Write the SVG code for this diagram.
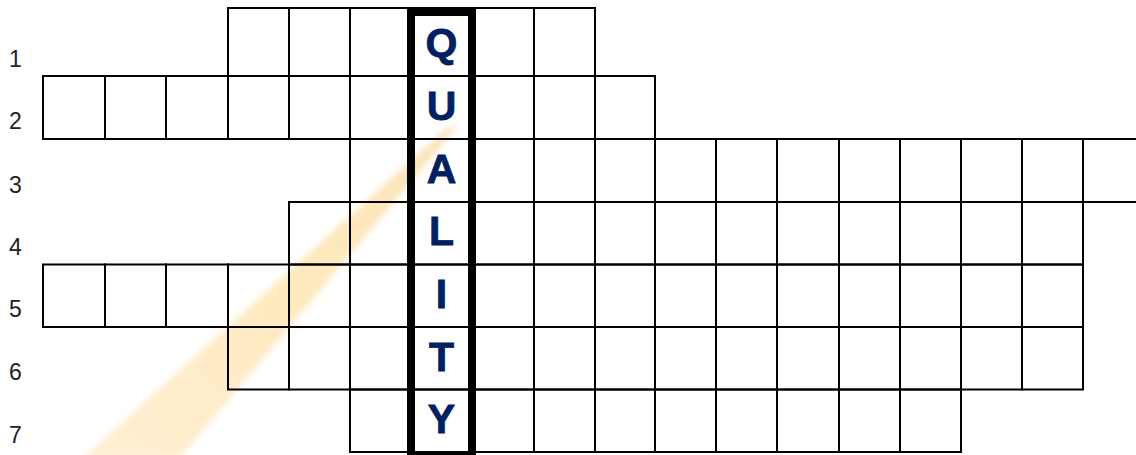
<svg xmlns="http://www.w3.org/2000/svg" width="1136" height="455" viewBox="0 0 1136 455">
  <style>
    .cell { fill: none; stroke: #000; stroke-width: 2; }
    .num { font-family: "Liberation Sans", Arial, sans-serif; font-size: 23px; fill: #222; }
    .let { font-family: "Liberation Sans", Arial, sans-serif; font-size: 41px; font-weight: bold; fill: #002060; stroke: #002060; stroke-width: 0.8; text-anchor: middle; }
    .spine { fill: none; stroke: #000; stroke-width: 8; }
  </style>
  <defs>
    <filter id="soft" x="-20%" y="-20%" width="140%" height="140%">
      <feGaussianBlur stdDeviation="3"/>
    </filter>
    <linearGradient id="beamGrad" x1="450" y1="128" x2="130" y2="455" gradientUnits="userSpaceOnUse">
      <stop offset="0" stop-color="#FAE3BA"/>
      <stop offset="0.5" stop-color="#FFE9BE"/>
      <stop offset="1" stop-color="#FFEED0"/>
    </linearGradient>
  </defs>
  <rect width="1136" height="455" fill="#fff"/>
  <g id="beam">
    <polygon points="447,128 456,128 180,458 83,458" fill="url(#beamGrad)" filter="url(#soft)"/>
  </g>
  <g id="row-numbers">
    <text class="num" x="9" y="67">1</text>
    <text class="num" x="9" y="129">2</text>
    <text class="num" x="9" y="193">3</text>
    <text class="num" x="9" y="255">4</text>
    <text class="num" x="9" y="317">5</text>
    <text class="num" x="9" y="380">6</text>
    <text class="num" x="9" y="443">7</text>
  </g>
  <g id="row1">
    <rect class="cell" x="228" y="8" width="61" height="68"/>
    <rect class="cell" x="289" y="8" width="61" height="68"/>
    <rect class="cell" x="350" y="8" width="61" height="68"/>
    <rect class="cell" x="411" y="8" width="61" height="68"/>
    <rect class="cell" x="472" y="8" width="62" height="68"/>
    <rect class="cell" x="534" y="8" width="61" height="68"/>
  </g>
  <g id="row2">
    <rect class="cell" x="43" y="76" width="62" height="63"/>
    <rect class="cell" x="105" y="76" width="61" height="63"/>
    <rect class="cell" x="166" y="76" width="62" height="63"/>
    <rect class="cell" x="228" y="76" width="61" height="63"/>
    <rect class="cell" x="289" y="76" width="61" height="63"/>
    <rect class="cell" x="350" y="76" width="61" height="63"/>
    <rect class="cell" x="411" y="76" width="61" height="63"/>
    <rect class="cell" x="472" y="76" width="62" height="63"/>
    <rect class="cell" x="534" y="76" width="61" height="63"/>
    <rect class="cell" x="595" y="76" width="60" height="63"/>
  </g>
  <g id="row3">
    <rect class="cell" x="350" y="139" width="61" height="63"/>
    <rect class="cell" x="411" y="139" width="61" height="63"/>
    <rect class="cell" x="472" y="139" width="62" height="63"/>
    <rect class="cell" x="534" y="139" width="61" height="63"/>
    <rect class="cell" x="595" y="139" width="60" height="63"/>
    <rect class="cell" x="655" y="139" width="61" height="63"/>
    <rect class="cell" x="716" y="139" width="61" height="63"/>
    <rect class="cell" x="777" y="139" width="62" height="63"/>
    <rect class="cell" x="839" y="139" width="61" height="63"/>
    <rect class="cell" x="900" y="139" width="61" height="63"/>
    <rect class="cell" x="961" y="139" width="61" height="63"/>
    <rect class="cell" x="1022" y="139" width="61" height="63"/>
    <rect class="cell" x="1083" y="139" width="61" height="63"/>
  </g>
  <g id="row4">
    <rect class="cell" x="289" y="202" width="61" height="62.5"/>
    <rect class="cell" x="350" y="202" width="61" height="62.5"/>
    <rect class="cell" x="411" y="202" width="61" height="62.5"/>
    <rect class="cell" x="472" y="202" width="62" height="62.5"/>
    <rect class="cell" x="534" y="202" width="61" height="62.5"/>
    <rect class="cell" x="595" y="202" width="60" height="62.5"/>
    <rect class="cell" x="655" y="202" width="61" height="62.5"/>
    <rect class="cell" x="716" y="202" width="61" height="62.5"/>
    <rect class="cell" x="777" y="202" width="62" height="62.5"/>
    <rect class="cell" x="839" y="202" width="61" height="62.5"/>
    <rect class="cell" x="900" y="202" width="61" height="62.5"/>
    <rect class="cell" x="961" y="202" width="61" height="62.5"/>
    <rect class="cell" x="1022" y="202" width="61" height="62.5"/>
  </g>
  <g id="row5">
    <rect class="cell" x="43" y="264.5" width="62" height="62.5"/>
    <rect class="cell" x="105" y="264.5" width="61" height="62.5"/>
    <rect class="cell" x="166" y="264.5" width="62" height="62.5"/>
    <rect class="cell" x="228" y="264.5" width="61" height="62.5"/>
    <rect class="cell" x="289" y="264.5" width="61" height="62.5"/>
    <rect class="cell" x="350" y="264.5" width="61" height="62.5"/>
    <rect class="cell" x="411" y="264.5" width="61" height="62.5"/>
    <rect class="cell" x="472" y="264.5" width="62" height="62.5"/>
    <rect class="cell" x="534" y="264.5" width="61" height="62.5"/>
    <rect class="cell" x="595" y="264.5" width="60" height="62.5"/>
    <rect class="cell" x="655" y="264.5" width="61" height="62.5"/>
    <rect class="cell" x="716" y="264.5" width="61" height="62.5"/>
    <rect class="cell" x="777" y="264.5" width="62" height="62.5"/>
    <rect class="cell" x="839" y="264.5" width="61" height="62.5"/>
    <rect class="cell" x="900" y="264.5" width="61" height="62.5"/>
    <rect class="cell" x="961" y="264.5" width="61" height="62.5"/>
    <rect class="cell" x="1022" y="264.5" width="61" height="62.5"/>
  </g>
  <g id="row6">
    <rect class="cell" x="228" y="327" width="61" height="62.5"/>
    <rect class="cell" x="289" y="327" width="61" height="62.5"/>
    <rect class="cell" x="350" y="327" width="61" height="62.5"/>
    <rect class="cell" x="411" y="327" width="61" height="62.5"/>
    <rect class="cell" x="472" y="327" width="62" height="62.5"/>
    <rect class="cell" x="534" y="327" width="61" height="62.5"/>
    <rect class="cell" x="595" y="327" width="60" height="62.5"/>
    <rect class="cell" x="655" y="327" width="61" height="62.5"/>
    <rect class="cell" x="716" y="327" width="61" height="62.5"/>
    <rect class="cell" x="777" y="327" width="62" height="62.5"/>
    <rect class="cell" x="839" y="327" width="61" height="62.5"/>
    <rect class="cell" x="900" y="327" width="61" height="62.5"/>
    <rect class="cell" x="961" y="327" width="61" height="62.5"/>
    <rect class="cell" x="1022" y="327" width="61" height="62.5"/>
  </g>
  <g id="row7">
    <rect class="cell" x="350" y="389.5" width="61" height="62.5"/>
    <rect class="cell" x="411" y="389.5" width="61" height="62.5"/>
    <rect class="cell" x="472" y="389.5" width="62" height="62.5"/>
    <rect class="cell" x="534" y="389.5" width="61" height="62.5"/>
    <rect class="cell" x="595" y="389.5" width="60" height="62.5"/>
    <rect class="cell" x="655" y="389.5" width="61" height="62.5"/>
    <rect class="cell" x="716" y="389.5" width="61" height="62.5"/>
    <rect class="cell" x="777" y="389.5" width="62" height="62.5"/>
    <rect class="cell" x="839" y="389.5" width="61" height="62.5"/>
    <rect class="cell" x="900" y="389.5" width="61" height="62.5"/>
  </g>
  <g id="quality-column">
    <rect class="spine" x="411" y="12" width="61" height="444"/>
    <text class="let" x="441.5" y="57">Q</text>
    <text class="let" x="441.5" y="120">U</text>
    <text class="let" x="441.5" y="183">A</text>
    <text class="let" x="441.5" y="245">L</text>
    <text class="let" x="441.5" y="308">I</text>
    <text class="let" x="441.5" y="371">T</text>
    <text class="let" x="441.5" y="433">Y</text>
  </g>
</svg>
